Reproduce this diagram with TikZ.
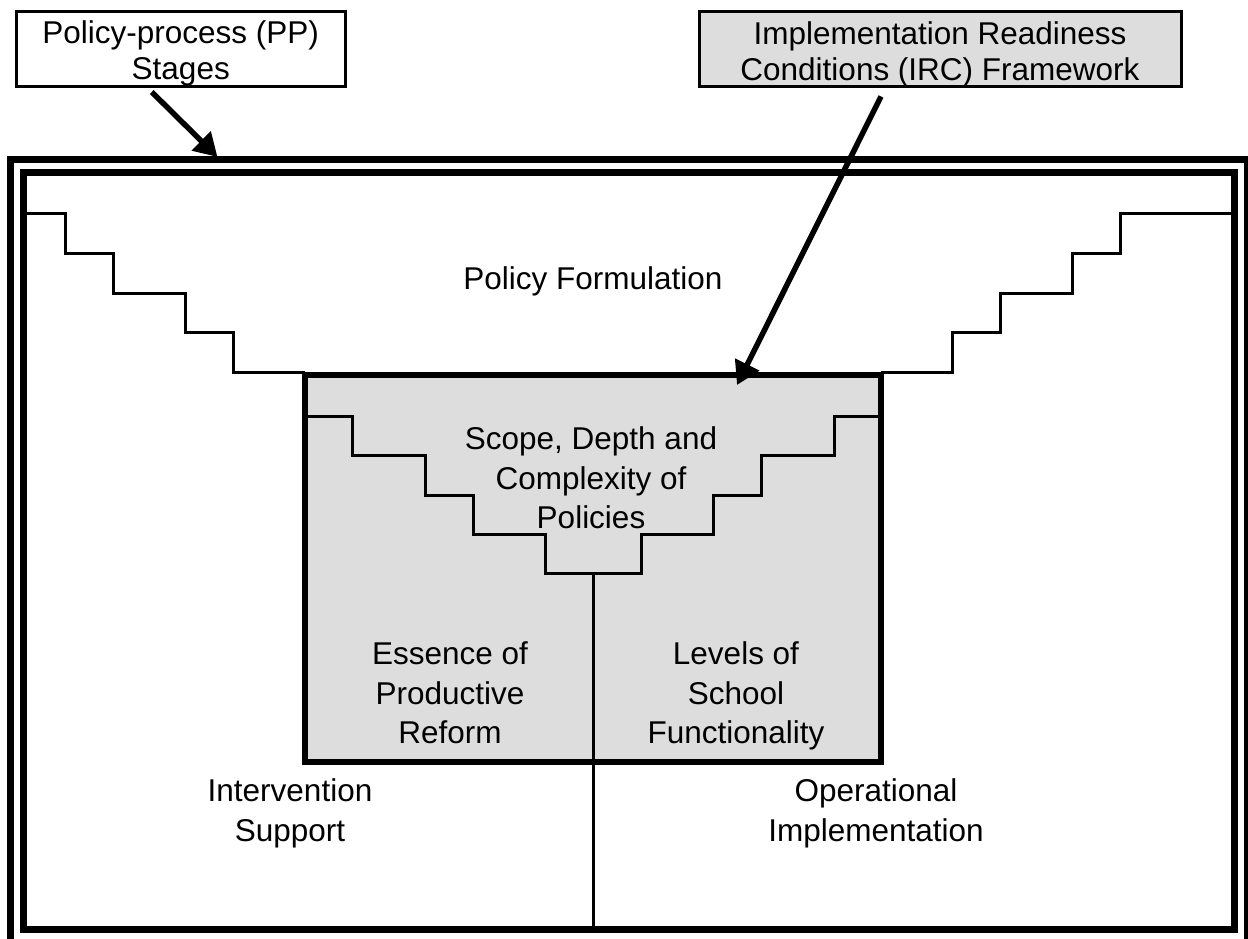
\documentclass[tikz,border=0pt]{standalone}
\usepackage{fontspec}
\setmainfont{Liberation Sans}
\usetikzlibrary{arrows.meta}
\definecolor{panelgray}{RGB}{221,221,221}

\begin{document}
\begin{tikzpicture}[x=1pt,y=-1pt,
  frameline/.style={draw, line width=7pt},
  stairline/.style={draw, line width=3pt, line join=miter},
  divider/.style={draw, line width=3pt},
  labelbox/.style={draw, line width=3pt, minimum height=75pt, inner sep=0pt},
  labeltext/.style={align=center, inner sep=0pt, font=\fontsize{31.5}{36}\selectfont},
  panel/.style={draw, fill=panelgray, line width=6pt, inner sep=0pt,
    minimum width=576pt, minimum height=387pt},
  txt/.style={align=center, inner sep=0pt, font=\fontsize{31.5}{39.5}\selectfont},
  pointer/.style={line width=5.5pt, -{Triangle[length=23pt,width=26pt]}}]

% page area
\clip (0,0) rectangle (1248,939);
\useasboundingbox (0,0) rectangle (1248,939);

% central readiness panel
\node[panel] (irc) at (593,568) {};

% outer staircase of the policy-formulation stage
\path[stairline] (23.5,213) -- (65,213) -- (65,253) -- (113,253) -- (113,293)
  -- (185,293) -- (185,332) -- (233,332) -- (233,372.5) -- (305,372.5);
\path[stairline] (881,372.5) -- (952,372.5) -- (952,332) -- (1000,332) -- (1000,293)
  -- (1072,293) -- (1072,253) -- (1120,253) -- (1120,213) -- (1234.5,213);

% inner staircase inside the panel
\path[stairline] (305,416) -- (352,416) -- (352,455) -- (425,455) -- (425,495)
  -- (473,495) -- (473,534) -- (545,534) -- (545,573) -- (641,573) -- (641,534)
  -- (713,534) -- (713,495) -- (761,495) -- (761,455) -- (834,455) -- (834,416)
  -- (881,416);

% redraw the panel border over the stair ends
\node[draw, line width=6pt, inner sep=0pt, minimum width=576pt,
  minimum height=387pt] at (irc.center) {};

% vertical split down to the frame
\coordinate (split) at (593,573);
\coordinate (framebase) at (593,929.5);
\path[divider] (split) -- (framebase);

% double frame
\path[frameline] (23.5,172.5) rectangle (1234.5,929.5);
\path[frameline] (10.5,159.5) rectangle (1247.5,942.5);
\coordinate (frametop) at (217.5,157);

% texts
\node[txt] (formulation) at (593,281.4) {\strut Policy Formulation\strut};
\node[txt] (scope) at (591,481.4) {\strut Scope, Depth and\\Complexity of\\Policies\strut};
\node[txt] (essence) at (450,696.4) {\strut Essence of\\Productive\\Reform\strut};
\node[txt] (levels) at (736,696.4) {\strut Levels of\\School\\Functionality\strut};
\node[txt] (support) at (290,813.4) {\strut Intervention\\Support\strut};
\node[txt] (operational) at (876,813.4) {\strut Operational\\Implementation\strut};

% label boxes
\node[labelbox, fill=white, minimum width=328.5pt] (pp) at (180.75,49) {};
\node[labeltext] (pptext) at (180.75,54.6) {\strut Policy-process (PP)\\Stages\strut};
\node[labelbox, fill=panelgray, minimum width=482pt] (ircl) at (940,49.5) {};
\node[labeltext] (ircltext) at (940,55.6)
  {\strut Implementation Readiness\\Conditions (IRC) Framework\strut};

% pointers
\draw[pointer] ([xshift=-29pt,yshift=-4pt]pp.south) -- (frametop);
\draw[pointer] ([xshift=-59pt,yshift=-8pt]ircl.south)
  -- ([xshift=144pt,yshift=-13.5pt]irc.north);
\end{tikzpicture}
\end{document}
